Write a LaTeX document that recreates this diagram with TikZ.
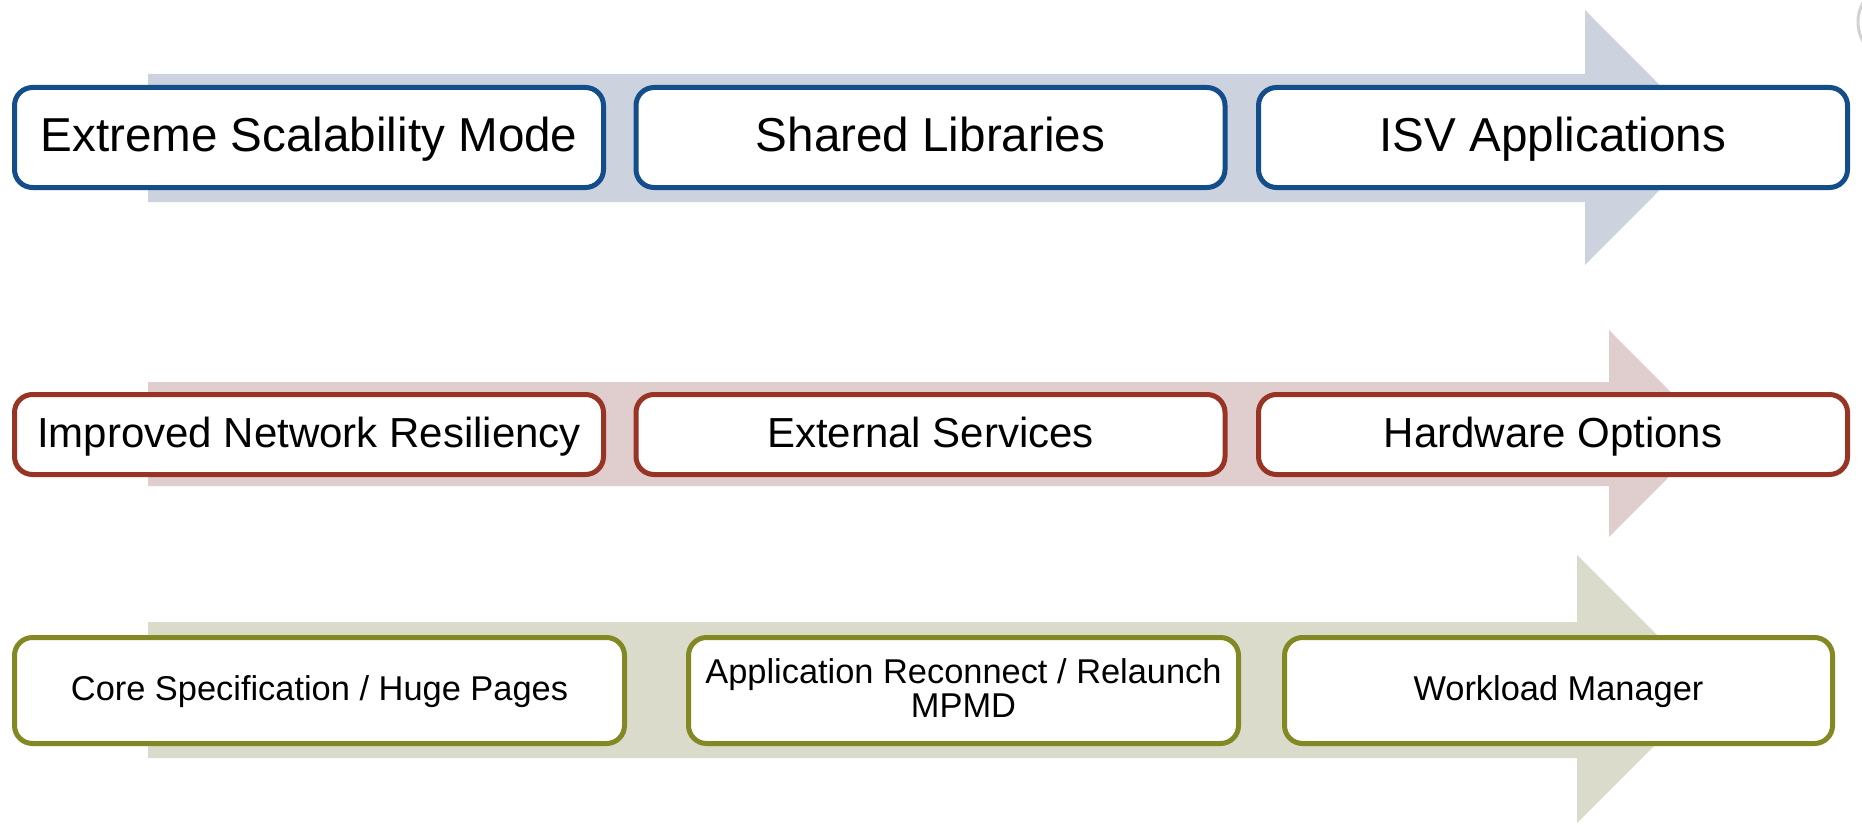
\documentclass[tikz,border=0pt]{standalone}
\usepackage{fontspec}
\setmainfont{Liberation Sans}
\definecolor{blueline}{RGB}{20,78,138}
\definecolor{bluefill}{RGB}{204,211,223}
\definecolor{redline}{RGB}{152,52,36}
\definecolor{redfill}{RGB}{224,205,205}
\definecolor{oliveline}{RGB}{130,136,34}
\definecolor{olivefill}{RGB}{219,219,204}
\tikzset{
  stagebox/.style={draw, fill=white, line width=2.5pt, rounded corners=9pt,
    inner sep=0pt, align=center, text=black},
  topbox/.style={stagebox, draw=blueline, minimum width=294.5pt, minimum height=50pt,
    font=\fontsize{23.8}{26}\selectfont, text height=19pt, text depth=4.8pt},
  midbox/.style={stagebox, draw=redline, minimum width=294.5pt, minimum height=40pt,
    font=\fontsize{21}{24}\selectfont, text height=16.8pt, text depth=4.2pt},
  lowbox/.style={stagebox, draw=oliveline, minimum height=53pt,
    font=\fontsize{17.2}{17}\selectfont, text height=13.8pt, text depth=3.4pt},
}
\begin{document}
\begin{tikzpicture}[x=0.5pt,y=-0.5pt]
\useasboundingbox (0,0) rectangle (1862,824);
\fill[white] (0,0) rectangle (1862,824);

% broad background arrows
\fill[bluefill] (148,74) -- (1585,74) -- (1585,10) -- (1712,137.5)
  -- (1585,265) -- (1585,202) -- (148,202) -- cycle;
\fill[redfill] (148,382) -- (1609,382) -- (1609,330) -- (1712,433.5)
  -- (1609,537) -- (1609,486) -- (148,486) -- cycle;
\fill[olivefill] (148,622) -- (1577,622) -- (1577,555) -- (1711,689)
  -- (1577,823) -- (1577,758) -- (148,758) -- cycle;

% faint mark in the corner
\draw[gray!35, line width=1.5pt] (1898,22) circle (40);

% first row
\node[topbox] (esm) at (309,137.5) {Extreme Scalability Mode};
\node[topbox] (shl) at (930.5,137.5) {Shared Libraries};
\node[topbox] (isv) at (1553,137.5) {ISV Applications};

% second row
\node[midbox] (inr) at (309,434.5) {Improved Network Resiliency};
\node[midbox] (ext) at (930.5,434.5) {External Services};
\node[midbox] (hwo) at (1553,434.5) {Hardware Options};

% third row
\node[lowbox, minimum width=305pt] (csp) at (319.5,690.5) {Core Specification / Huge Pages};
\node[lowbox, minimum width=275pt] (arr) at (963.5,690.5) {};
\node[font=\fontsize{17.2}{17}\selectfont, align=center, inner sep=0pt, anchor=north]
  (arrtext) at (963.5,658.3) {Application Reconnect / Relaunch\\MPMD};
\node[lowbox, minimum width=274pt] (wlm) at (1558.5,690.5) {Workload Manager};
\end{tikzpicture}
\end{document}
